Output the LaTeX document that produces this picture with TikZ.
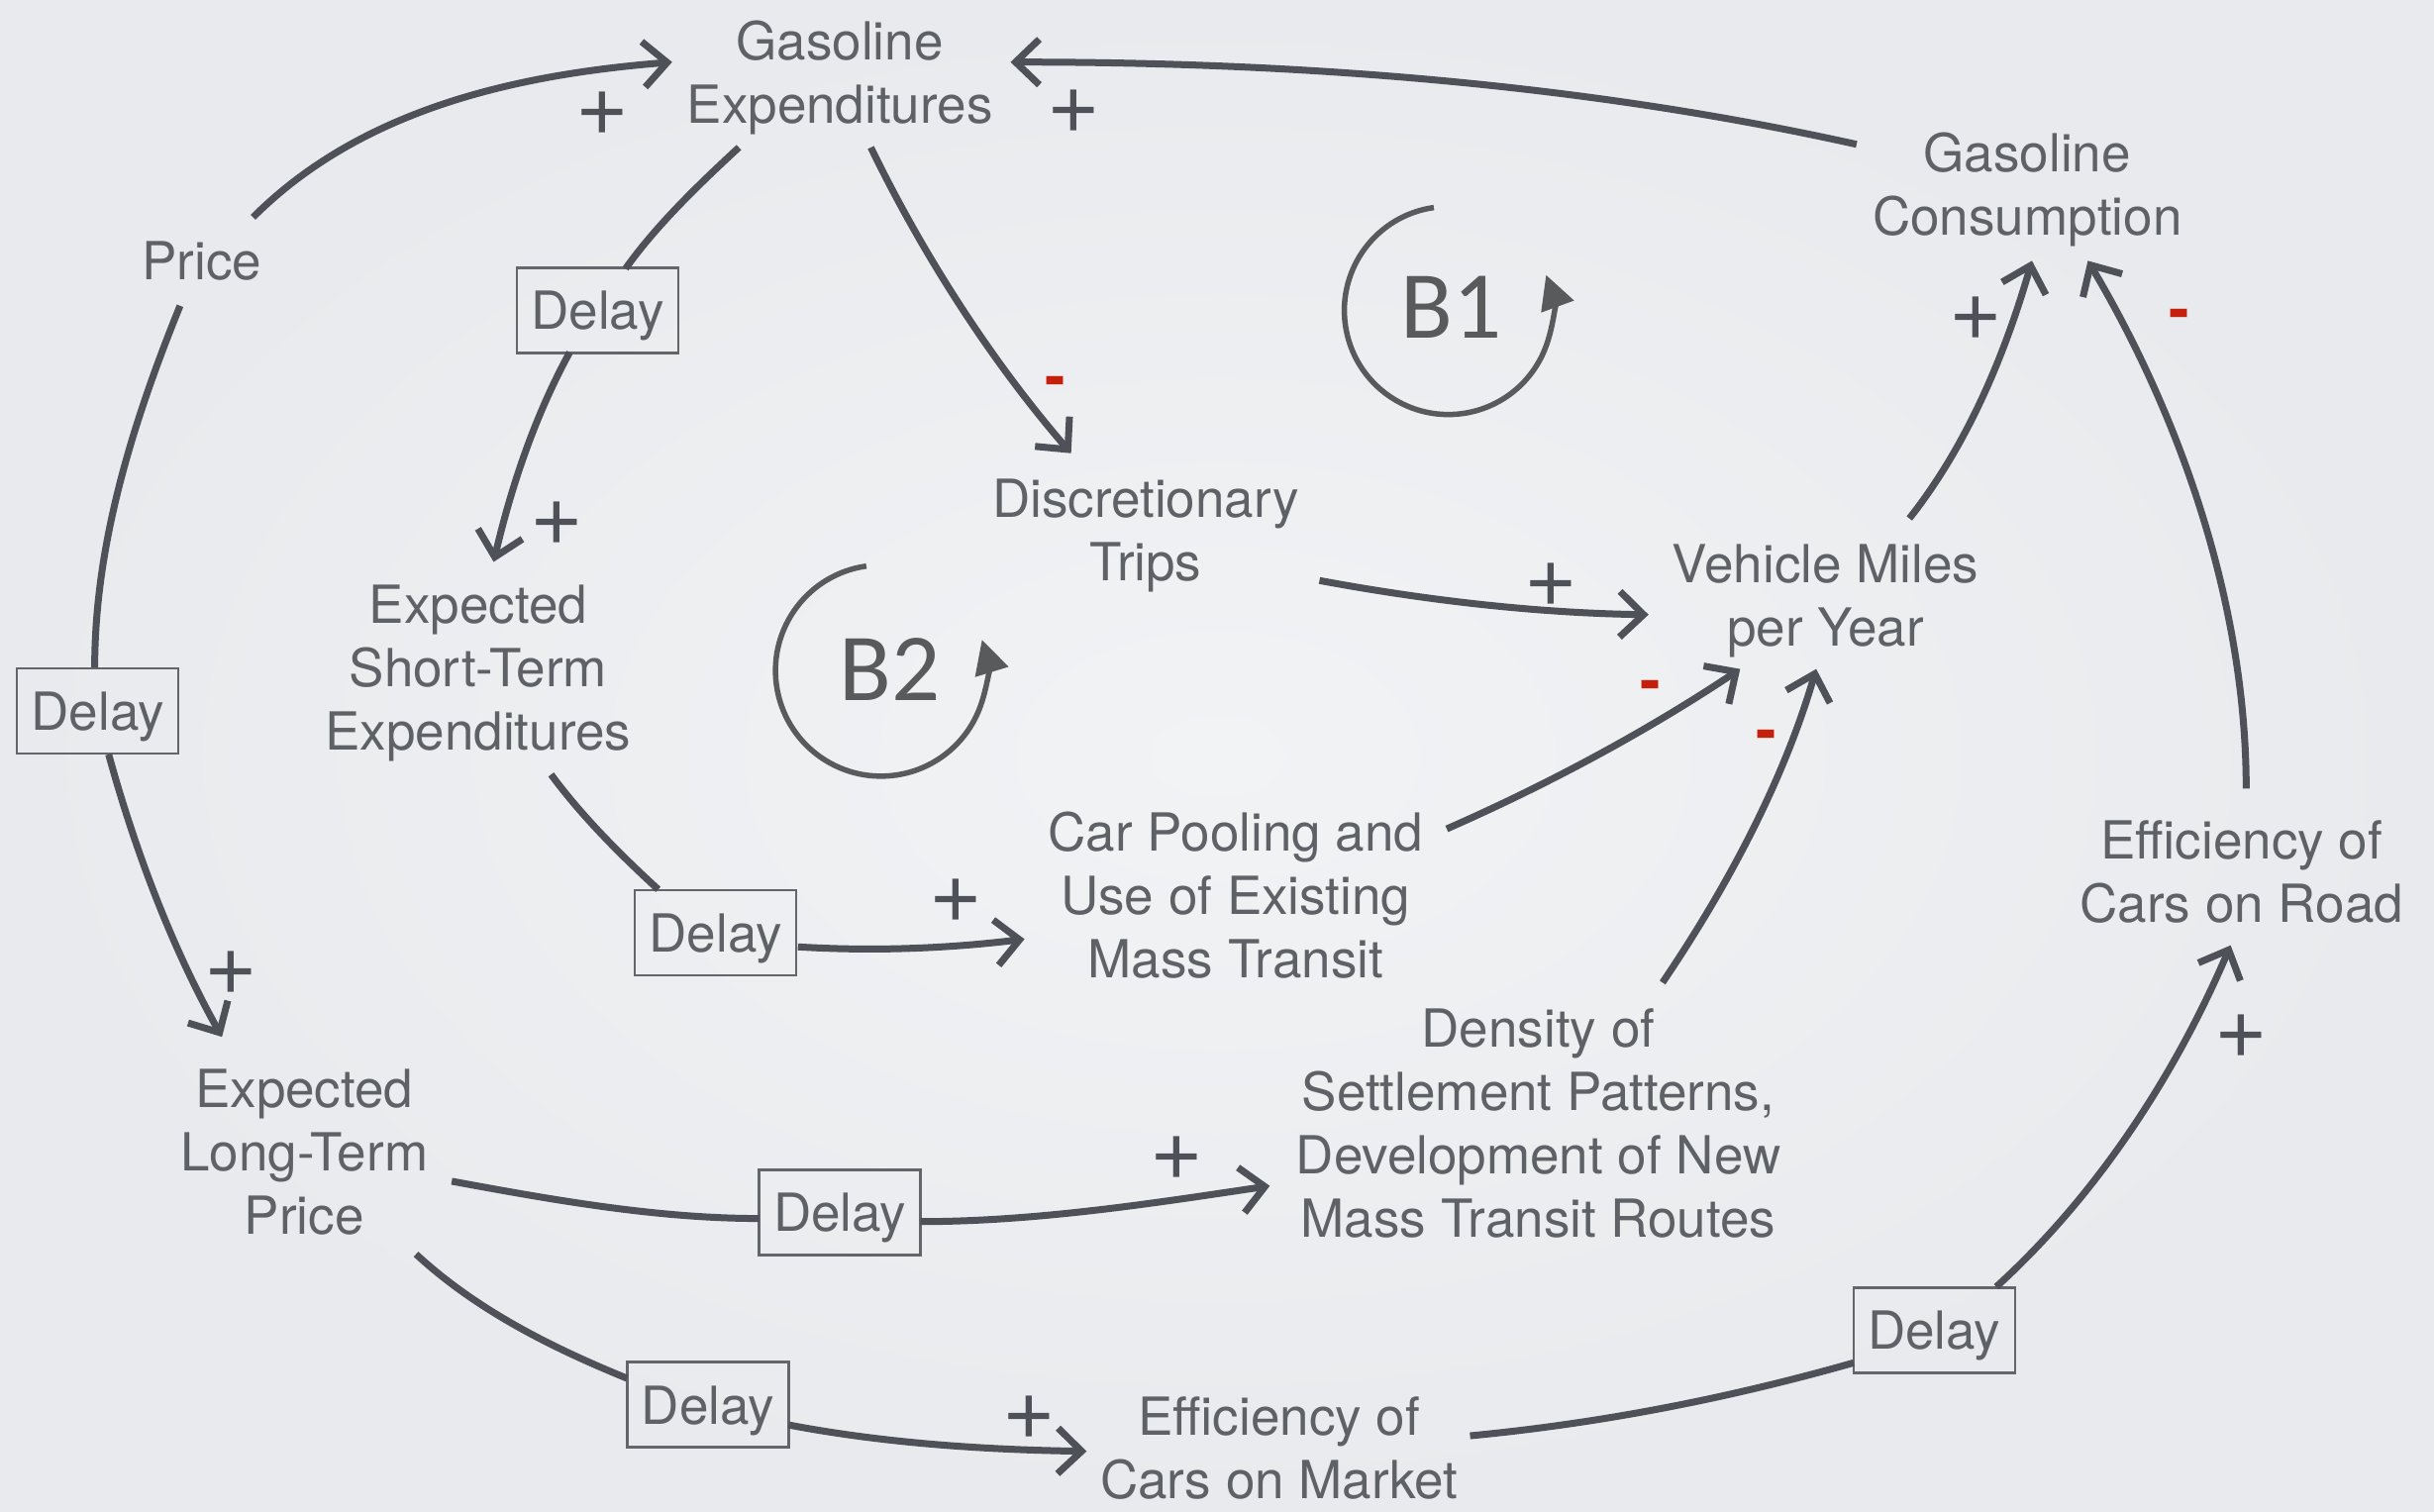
\documentclass[tikz,border=0pt]{standalone}
\usepackage{fontspec}
\setmainfont{TeX Gyre Heros}
\newfontfamily\loopfont{Carlito}
\usetikzlibrary{arrows.meta}
\definecolor{bgin}{HTML}{F2F3F5}
\definecolor{bgout}{HTML}{E8EAED}
\definecolor{txt}{HTML}{5E6267}
\definecolor{linec}{HTML}{4E5258}
\definecolor{boxc}{HTML}{62666B}
\definecolor{negc}{HTML}{C4200C}
\definecolor{loopc}{HTML}{585A5B}
\begin{document}
\begin{tikzpicture}[x=1.5676pt,y=-1.5676pt,
  vartext/.style={align=center, text=txt, font=\fontsize{53pt}{64pt}\selectfont, inner sep=0pt},
  dly/.style={draw=boxc, line width=2.4pt, text=txt, font=\fontsize{53pt}{64pt}\selectfont,
              minimum width=163pt, minimum height=86pt, inner sep=0pt, text depth=0pt},
  lnk/.style={draw=linec, line width=7pt, -{Straight Barb[length=24pt,width=46pt]}},
  seg/.style={draw=linec, line width=7pt},
  plussign/.style={text=linec, font=\fontsize{92pt}{92pt}\selectfont, inner sep=0pt},
  minussign/.style={text=negc, font=\bfseries\fontsize{62pt}{62pt}\selectfont, inner sep=0pt, anchor=base},
  loopcirc/.style={draw=loopc, line width=5.5pt, -{Triangle[length=34pt,width=34pt]}},
  looplab/.style={text=loopc, font=\loopfont\fontsize{97pt}{97pt}\selectfont, inner sep=0pt}]
\useasboundingbox (0,0) rectangle (1568,974);
\shade[inner color=bgin, outer color=bgout] (0,0) rectangle (1568,974);

% variables
\node[vartext] (gexp)  at (541,50)  {Gasoline\\Expenditures};
\node[vartext] (price) at (130,168) {Price};
\node[vartext] (exst)  at (308,434) {Expected\\Short-Term\\Expenditures};
\node[vartext] (disc)  at (738,345) {Discretionary\\Trips};
\node[vartext] (gcons) at (1306,122) {Gasoline\\Consumption};
\node[vartext] (vmy)   at (1176,387) {Vehicle Miles\\per Year};
\node[vartext] (carp)  at (796,577) {Car Pooling and\\Use of Existing\\Mass Transit};
\node[vartext] (effr)  at (1444,562) {Efficiency of\\Cars on Road};
\node[vartext] (exlt)  at (196,742) {Expected\\Long-Term\\Price};
\node[vartext] (dens)  at (991,724) {Density of\\Settlement Patterns,\\Development of New\\Mass Transit Routes};
\node[vartext] (effm)  at (824,933) {Efficiency of\\Cars on Market};

% delays
\node[dly] (d1) at (385,200) {Delay};
\node[dly] (d2) at (63,458)  {Delay};
\node[dly] (d3) at (461,601) {Delay};
\node[dly] (d4) at (541,781) {Delay};
\node[dly] (d5) at (456,905) {Delay};
\node[dly] (d6) at (1246,857) {Delay};

% connectors
\draw[lnk] ([shift={(33,-28)}]price.center) .. controls +(70,-70) and +(-100,8) .. ([shift={(-108,-10)}]gexp.center);
\draw[lnk] ([shift={(-110,-29)}]gcons.center) .. controls +(-180,-40) and +(180,0) .. ([shift={(110,-10)}]gexp.center);
\draw[seg] ([shift={(-65,45)}]gexp.center) .. controls +(-26,24) and +(20,-28) .. ([shift={(18,-27)}]d1.center);
\draw[lnk] ([shift={(-18,27)}]d1.center) .. controls +(-23,42) and +(11,-47) .. ([shift={(10,-72)}]exst.center);
\draw[lnk] ([shift={(20,45)}]gexp.center) .. controls +(34,70) and +(-51,-59) .. ([shift={(-48,-53)}]disc.center);
\draw[lnk] ([shift={(112,29)}]disc.center) .. controls +(70,13) and +(-71,-1) .. ([shift={(-114,9)}]vmy.center);
\draw[lnk] ([shift={(54,-53)}]vmy.center) .. controls +(38,-48) and +(-17,59) .. ([shift={(3,46)}]gcons.center);
\draw[lnk] ([shift={(3,-54)}]effr.center) .. controls +(0,-118) and +(60,101) .. ([shift={(39,46)}]gcons.center);
\draw[seg] ([shift={(-14,29)}]price.center) .. controls +(-30,74) and +(0,-80) .. ([shift={(-2,-28)}]d2.center);
\draw[lnk] ([shift={(7,28)}]d2.center) .. controls +(17,62) and +(-32,-57) .. ([shift={(-53,-74)}]exlt.center);
\draw[seg] ([shift={(47,65)}]exst.center) .. controls +(20,27) and +(-25,-23) .. ([shift={(-37,-28)}]d3.center);
\draw[lnk] ([shift={(53,9)}]d3.center) .. controls +(49,3) and +(-49,6) .. ([shift={(-136,28)}]carp.center);
\draw[lnk] ([shift={(136,-43)}]carp.center) .. controls +(66,-29) and +(-60,40) .. ([shift={(-55,44)}]vmy.center);
\draw[lnk] ([shift={(80,-91)}]dens.center) .. controls +(42,-62) and +(-21,72) .. ([shift={(-6,44)}]vmy.center);
\draw[seg] ([shift={(95,19)}]exlt.center) .. controls +(65,12) and +(-66,0) .. ([shift={(-52,4)}]d4.center);
\draw[lnk] ([shift={(52,6)}]d4.center) .. controls +(75,0) and +(-74,11) .. ([shift={(-173,40)}]dens.center);
\draw[seg] ([shift={(72,66)}]exlt.center) .. controls +(39,36) and +(-49,-20) .. ([shift={(-52,-17)}]d5.center);
\draw[lnk] ([shift={(52,13)}]d5.center) .. controls +(63,12) and +(-64,-1) .. ([shift={(-124,2)}]effm.center);
\draw[seg] ([shift={(123,-8)}]effm.center) .. controls +(84,-8) and +(-81,23) .. ([shift={(-52,21)}]d6.center);
\draw[lnk] ([shift={(40,-28)}]d6.center) .. controls +(66,-60) and +(-35,82) .. ([shift={(-7,47)}]effr.center);

% polarity signs
\node[plussign] (p1) at (388,73) {+};
\node[plussign] (p2) at (692,72) {+};
\node[plussign] (p3) at (359,337) {+};
\node[plussign] (p4) at (999,377) {+};
\node[plussign] (p5) at (1273,205) {+};
\node[plussign] (p6) at (149,627) {+};
\node[plussign] (p7) at (616,580) {+};
\node[plussign] (p8) at (758,746) {+};
\node[plussign] (p9) at (663,913) {+};
\node[plussign] (p10) at (1444,668) {+};
\node[minussign] (m1) at (680,256) {-};
\node[minussign] (m2) at (1404,213) {-};
\node[minussign] (m3) at (1063,452) {-};
\node[minussign] (m4) at (1138,484) {-};

% loop markers
\coordinate (b1c) at (933,200);
\draw[loopcirc] ([shift={(-9.3,-66.3)}]b1c) arc[start angle=-98, end angle=-380, radius=67];
\node[looplab] (b1) at (935,198) {B1};
\coordinate (b2c) at (568,432);
\draw[loopcirc] ([shift={(-9.9,-67.3)}]b2c) arc[start angle=-98, end angle=-377, radius=68];
\node[looplab] (b2) at (573,431) {B2};
\end{tikzpicture}
\end{document}
